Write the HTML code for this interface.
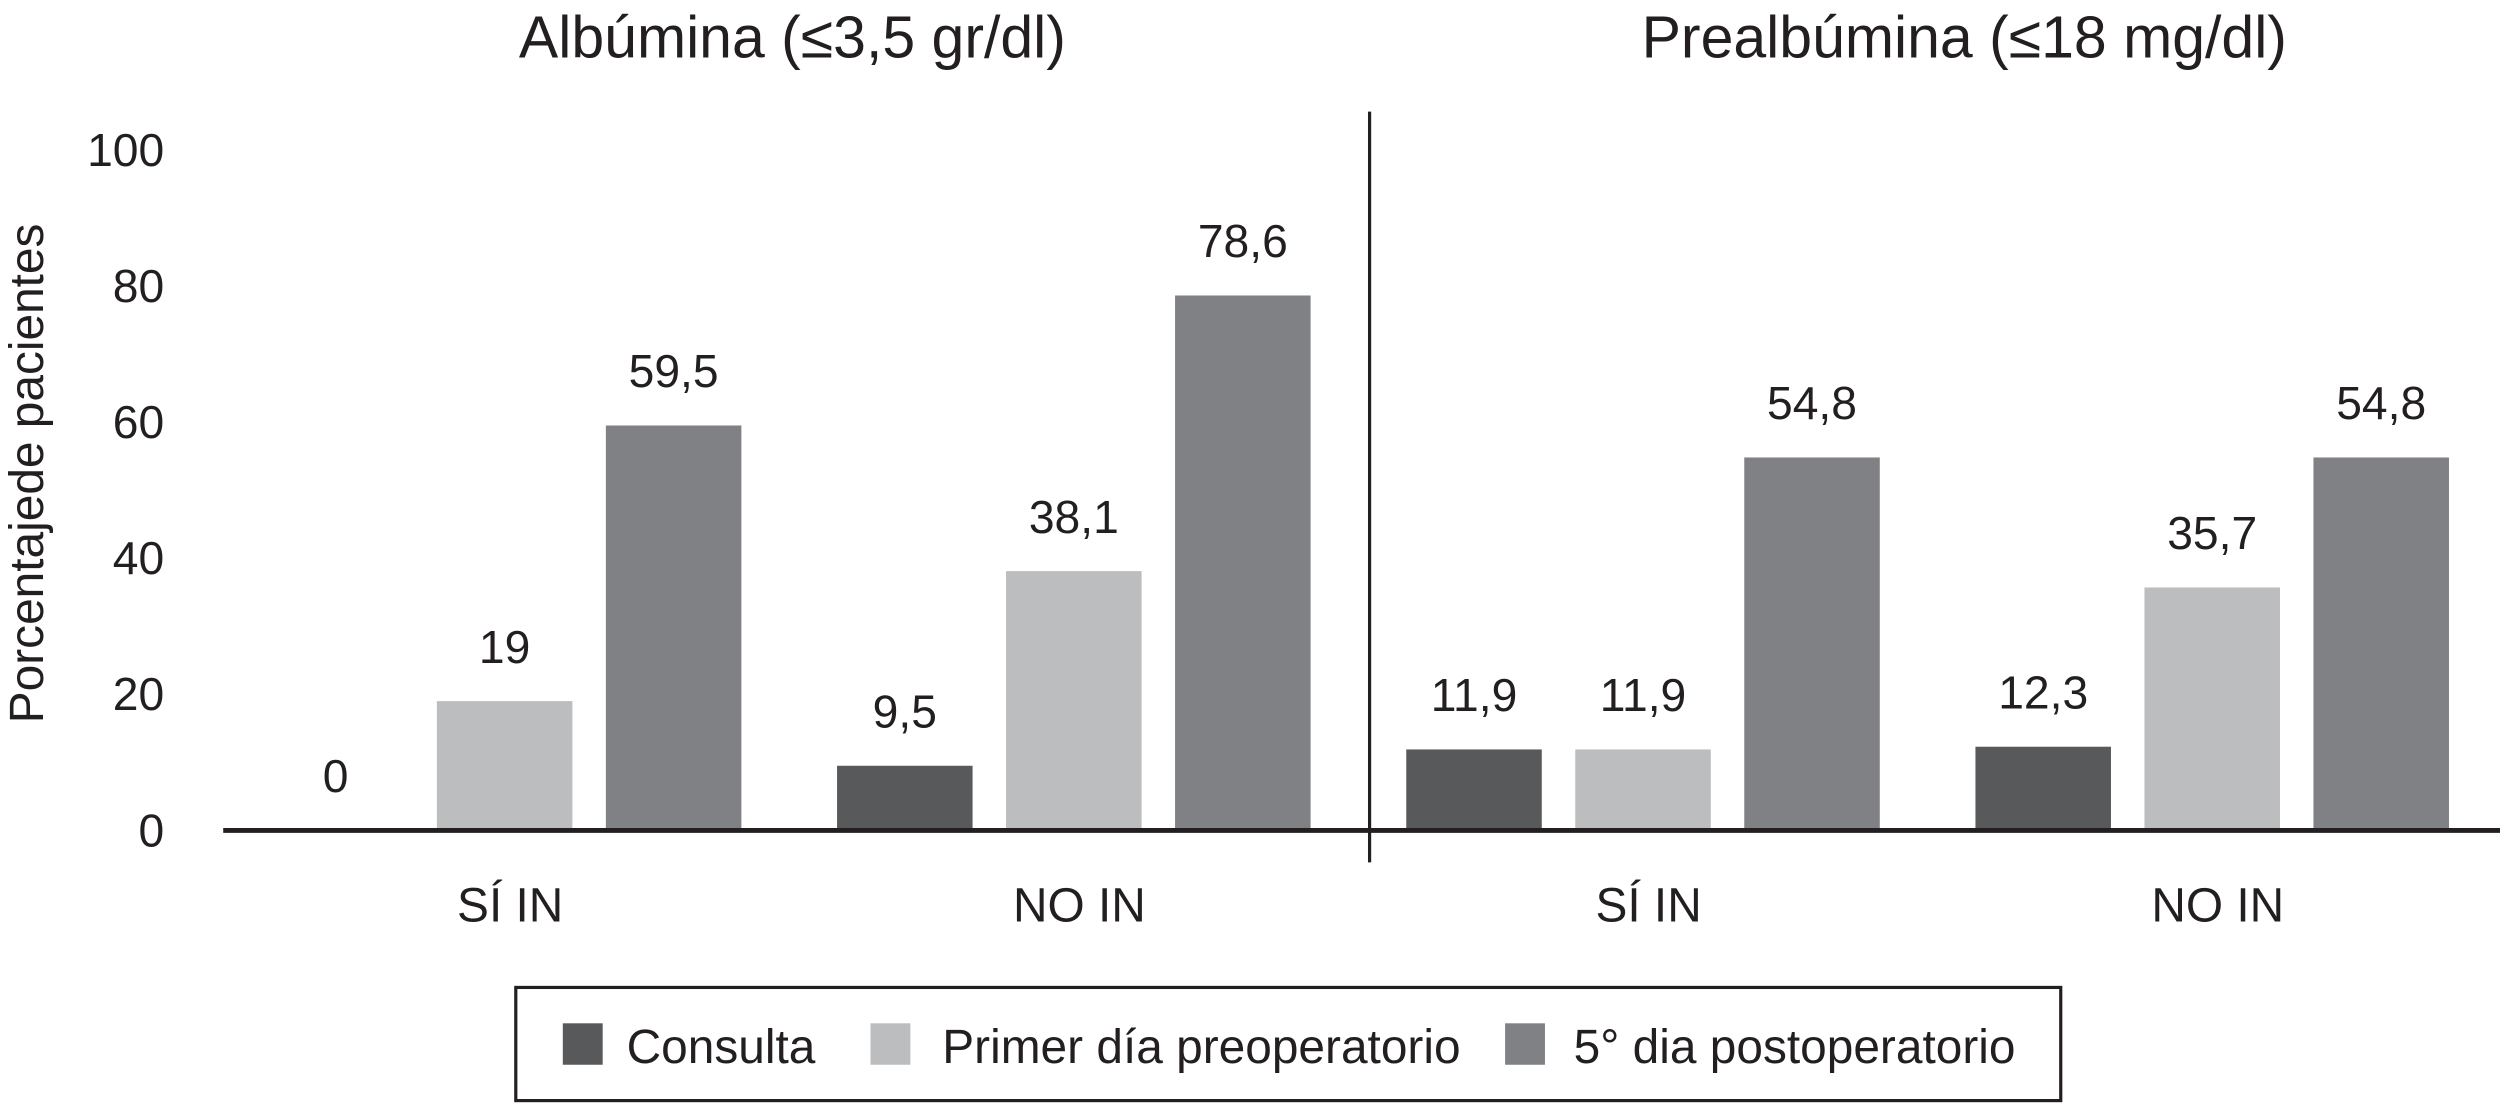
<!DOCTYPE html>
<html><head><meta charset="utf-8"><style>
html,body{margin:0;padding:0;background:#fff;width:2500px;height:1103px;overflow:hidden}
svg{display:block}
text{font-family:"Liberation Sans",sans-serif;fill:#231f20}
</style></head><body>
<svg id="chart" width="2500" height="1103" viewBox="0 0 1568 692" preserveAspectRatio="none" xmlns="http://www.w3.org/2000/svg">
<text x="497" y="36" font-size="37" text-anchor="middle">Albúmina (≤3,5 gr/dl)</text>
<text x="1232" y="36" font-size="37" text-anchor="middle">Prealbúmina (≤18 mg/dl)</text>
<text transform="translate(27,297) rotate(-90)" font-size="30" text-anchor="middle">Porcentajede pacientes</text>
<g id="ticks"></g>
<g id="bars"></g>
<line x1="140" y1="521" x2="1568" y2="521" stroke="#231f20" stroke-width="3"/>
<line x1="859" y1="70" x2="859" y2="541" stroke="#231f20" stroke-width="2"/>
<g>
<rect x="323.5" y="619.5" width="969" height="71" fill="none" stroke="#231f20" stroke-width="2"/>
<rect x="353" y="642" width="25" height="26" fill="#58595b"/>
<text x="393" y="667" font-size="30">Consulta</text>
<rect x="546" y="642" width="25" height="26" fill="#bcbdbf"/>
<text x="591" y="667" font-size="30">Primer día preoperatorio</text>
<rect x="944" y="642" width="25" height="26" fill="#808184"/>
<text x="987" y="667" font-size="30">5° dia postoperatorio</text>
</g>
</svg>
<script>
const categories = ["SÍ IN","NO IN","SÍ IN","NO IN"];
const consulta = [0, 9.5, 11.9, 12.3];
const preop = [19, 38.1, 11.9, 35.7];
const postop = [59.5, 78.6, 54.8, 54.8];
const valueLabels = [["0","9,5","11,9","12,3"],["19","38,1","11,9","35,7"],["59,5","78,6","54,8","54,8"]];
const yTicks = [0,20,40,60,80,100];

const NS="http://www.w3.org/2000/svg";
const y0=521, y100=94;
function yScale(v){return y0-(y0-y100)*v/100;}
function groupX(i){return 168+i*357;}
function mk(tag,attrs,parent){const e=document.createElementNS(NS,tag);for(const k in attrs)e.setAttribute(k,attrs[k]);parent.appendChild(e);return e;}
const tg=document.getElementById('ticks');
yTicks.forEach(t=>{
  const e=mk('text',{x:103,y:yScale(t)+10,'font-size':29,'text-anchor':'end'},tg);
  
  
  e.textContent=t;
});
const bg=document.getElementById('bars');
const series=[consulta,preop,postop];
const colors=["#58595b","#bcbdbf","#808184"];
const names=["consulta","preop","postop"];
categories.forEach((c,i)=>{
  series.forEach((s,j)=>{
    const x=groupX(i)+j*106, top=yScale(s[i]);
    const r=mk('rect',{x:x,y:top,width:85,height:y0-top,fill:colors[j]},bg);
    
    
    const l=mk('text',{x:x+42.5,y:top-24,'font-size':29,'text-anchor':'middle'},bg);
    
    
    l.textContent=valueLabels[j][i];
  });
  const cl=mk('text',{x:groupX(i)+152,y:578,'font-size':30,'text-anchor':'middle'},bg);
  
  
  cl.textContent=c;
});
</script>
</body></html>
